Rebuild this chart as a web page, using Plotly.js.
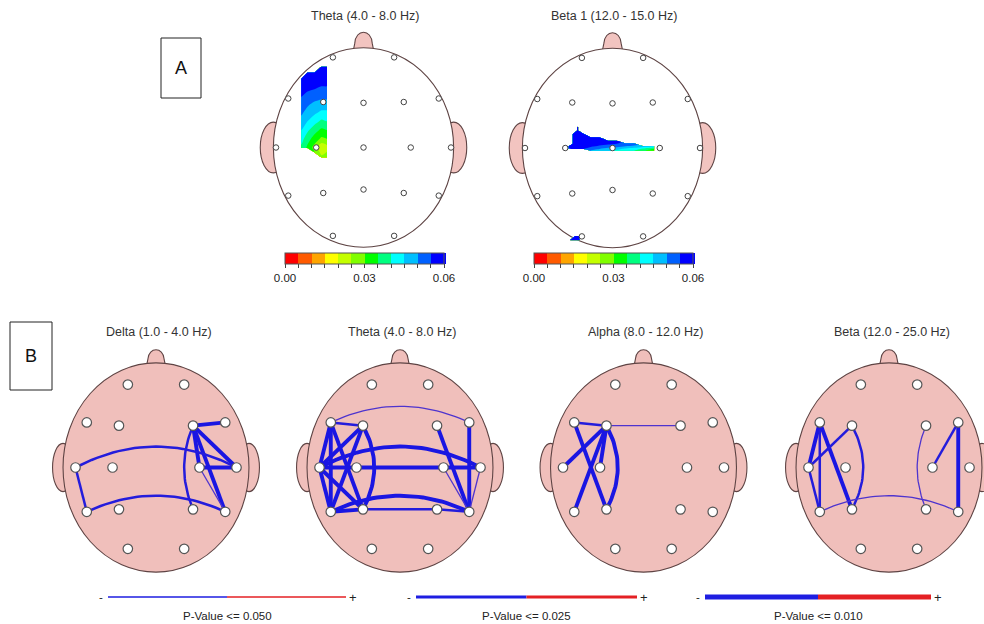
<!DOCTYPE html>
<html>
<head>
<meta charset="utf-8">
<script src="https://cdn.plot.ly/plotly-3.0.1.min.js"></script>
<style>
  html, body { margin: 0; padding: 0; background: #ffffff; }
  #chart { width: 984px; height: 624px; }
</style>
</head>
<body>
<div id="chart"></div>
<script>
// ---- 10-20 montage (head units, T3 at x = -1) ----
const electrodes = ['Fp1','Fp2','F7','F3','Fz','F4','F8','T3','C3','Cz','C4','T4','T5','P3','Pz','P4','T6','O1','O2'];
const electrodeX = [-0.35, 0.35, -0.86, -0.46, 0, 0.46, 0.86, -1, -0.54, 0, 0.54, 1, -0.86, -0.46, 0, 0.46, 0.86, -0.35, 0.35];
const electrodeY = [1.03, 1.03, 0.56, 0.52, 0.51, 0.52, 0.56, 0, 0, 0, 0, 0, -0.55, -0.52, -0.48, -0.52, -0.55, -1.01, -1.01];
const midline = ['Fz', 'Cz', 'Pz'];

// ---- Panel A: p-value maps ----
const mapTitles = ['Theta (4.0 - 8.0 Hz)', 'Beta 1 (12.0 - 15.0 Hz)'];
const pMin = 0, pMax = 0.06, pStep = 0.005;
const pTickValues = [0, 0.03, 0.06];
const pTickLabels = ['0.00', '0.03', '0.06'];
const bandColors = ['#ff0000','#ff5a00','#ffa500','#ffff00','#c4ff00','#80ff00',
                    '#00ff00','#00ff80','#00ffff','#00bfff','#0060ff','#0000ff'];

// Theta map (left fronto-central)
const thetaMapX = [-0.73, -0.71, -0.64, -0.56, -0.48, -0.42, -0.39];
const thetaMapY = [-0.15, -0.11, -0.05, 0.0, 0.1, 0.2, 0.3, 0.4, 0.5, 0.6, 0.7, 0.78, 0.85, 0.92, 0.96];
const thetaMapZ = [
  [null, null,   null,   null,   null,  null,  null],
  [null, null,   null,   null,   0.026, 0.028, null],
  [null, null,   null,   0.030,  0.023, 0.025, null],
  [null, 0.039,  0.034,  0.028,  0.021, 0.023, null],
  [null, 0.042,  0.037,  0.033,  0.029, 0.030, null],
  [null, 0.045,  0.041,  0.037,  0.034, 0.035, null],
  [null, 0.048,  0.045,  0.042,  0.039, 0.040, null],
  [null, 0.051,  0.048,  0.046,  0.044, 0.044, null],
  [null, 0.053,  0.051,  0.049,  0.048, 0.048, null],
  [null, 0.0555, 0.054,  0.053,  0.052, 0.052, null],
  [null, 0.057,  0.0565, 0.056,  0.055, 0.055, null],
  [null, 0.058,  0.058,  0.0575, 0.057, 0.057, null],
  [null, null,   0.059,  0.059,  0.059, 0.059, null],
  [null, null,   null,   null,   0.059, 0.059, null],
  [null, null,   null,   null,   null,  null,  null]
];

// Beta 1 map (central strip)
const beta1MapX = [-0.52, -0.50, -0.45, -0.40, -0.33, -0.25, -0.15, -0.05, 0.05, 0.15, 0.25, 0.35, 0.47, 0.53];
const beta1MapY = [-0.05, -0.03, -0.01, 0.02, 0.05, 0.08, 0.12, 0.16, 0.20, 0.24, 0.28];
const beta1MapZ = [
  [null, null,  null,  null,  null,  null,  null,  null,  null,  null,  null,  null,  null,  null],
  [null, null,  null,  null,  null,  0.050, 0.048, 0.046, 0.044, 0.042, 0.040, 0.036, 0.032, null],
  [null, 0.054, 0.056, 0.057, 0.055, 0.052, 0.050, 0.048, 0.046, 0.044, 0.042, 0.039, 0.035, null],
  [null, 0.057, 0.058, 0.059, 0.058, 0.056, 0.054, 0.053, 0.052, 0.050, 0.049, 0.047, 0.045, null],
  [null, null,  0.059, 0.059, 0.059, 0.058, 0.057, 0.056, 0.055, 0.054, 0.053, null,  null,  null],
  [null, null,  0.059, 0.059, 0.059, 0.059, 0.058, 0.058, 0.057, null,  null,  null,  null,  null],
  [null, null,  0.059, 0.059, 0.059, 0.059, 0.059, null,  null,  null,  null,  null,  null,  null],
  [null, null,  0.059, 0.059, 0.059, null,  null,  null,  null,  null,  null,  null,  null,  null],
  [null, null,  null,  0.059, null,  null,  null,  null,  null,  null,  null,  null,  null,  null],
  [null, null,  null,  0.059, null,  null,  null,  null,  null,  null,  null,  null,  null,  null],
  [null, null,  null,  null,  null,  null,  null,  null,  null,  null,  null,  null,  null,  null]
];
// Beta 1 map (occipital spot near O1)
const beta1SpotX = [-0.51, -0.48, -0.43, -0.38, -0.33];
const beta1SpotY = [-1.08, -1.05, -1.01, -0.96];
const beta1SpotZ = [
  [null, null,  null,  null,  null],
  [null, 0.059, 0.058, 0.056, null],
  [null, null,  0.059, 0.057, null],
  [null, null,  null,  null,  null]
];

// ---- Panel B: coherence links [from, to, significance level] ----
// level 1: p <= 0.050, level 2: p <= 0.025, level 3: p <= 0.010
const bandTitles = ['Delta (1.0 - 4.0 Hz)', 'Theta (4.0 - 8.0 Hz)', 'Alpha (8.0 - 12.0 Hz)', 'Beta (12.0 - 25.0 Hz)'];
const deltaLinks = [
  ['F4','F8',3], ['F4','C4',3], ['F4','T4',3], ['F4','T6',3], ['C4','T4',3],
  ['C4','T6',1], ['F4','P4',2], ['T3','T4',2], ['T5','T6',2], ['T3','T5',2]
];
const thetaLinks = [
  ['F7','F8',1], ['F7','F3',2], ['F7','T3',3], ['F7','T5',3], ['F7','P3',3],
  ['F3','T3',3], ['F3','T5',3], ['F3','P3',3], ['T3','C3',3], ['C3','C4',3],
  ['C4','T4',3], ['T3','T4',3], ['T5','T6',3], ['T3','P3',3], ['T3','T5',3],
  ['T5','P3',3], ['P3','P4',2], ['P4','T6',2], ['F4','T6',3], ['F8','T6',3],
  ['C4','T6',1], ['T4','T6',1]
];
const alphaLinks = [
  ['F7','F3',2], ['F3','F4',1], ['F7','P3',3], ['F3','T5',3], ['F3','T3',3],
  ['F3','C3',3], ['F3','P3',3]
];
const betaLinks = [
  ['F7','T3',3], ['F7','T5',2], ['F7','P3',3], ['F3','T3',2], ['T3','T5',2],
  ['F3','P3',2], ['T5','T6',1], ['F4','P4',1], ['F8','C4',2], ['F8','T6',3]
];
const pLevels = ['0.050', '0.025', '0.010'];

// ---- drawing styles ----
const W = 984, H = 624;
const FONT = 'Liberation Sans, Arial, sans-serif';
const linkWidth = {1: 1.3, 2: 2.5, 3: 3.9};
const linkColor = {1: 'rgb(78,52,206)', 2: 'rgb(36,28,220)', 3: 'rgb(26,22,226)'};
const arcBend = {'T3-T4': 0.26, 'T5-T6': 0.2, 'F3-P3': 0.14, 'F4-P4': -0.11, 'F7-F8': 0.2};
const pinkFill = '#f0bfbb';
const outline = '#5e4444';

const colorscale = [];
bandColors.forEach((c, i) => {
  colorscale.push([i / bandColors.length, c]);
  colorscale.push([(i + 1) / bandColors.length, c]);
});
const bandTicks = bandColors.map((c, i) => pMin + (pMax - pMin) * i / bandColors.length).concat([pMax]);
const bandTickText = bandTicks.map(v => {
  const k = pTickValues.findIndex(t => Math.abs(t - v) < 1e-9);
  return k >= 0 ? pTickLabels[k] : '';
});

// subplot frames: pixel centre, pixels per head unit, unit ranges
const frames = [
  {cx: 363.5, cy: 147.5, s: 87.5, xr: [-1.3, 1.3], yr: [-1.25, 1.4]},
  {cx: 612.5, cy: 148,   s: 87.5, xr: [-1.3, 1.3], yr: [-1.25, 1.4]},
  {cx: 156,   cy: 467.5, s: 80.5, xr: [-1.45, 1.45], yr: [-1.32, 1.5]},
  {cx: 400,   cy: 467.5, s: 80.5, xr: [-1.45, 1.45], yr: [-1.32, 1.5]},
  {cx: 643.5, cy: 467.5, s: 80.5, xr: [-1.45, 1.45], yr: [-1.32, 1.5]},
  {cx: 889,   cy: 467.5, s: 80.5, xr: [-1.45, (W - 889) / 80.5], yr: [-1.32, 1.5]}
];

const layout = {
  width: W, height: H,
  margin: {l: 0, r: 0, t: 0, b: 0},
  paper_bgcolor: '#ffffff', plot_bgcolor: 'rgba(0,0,0,0)',
  showlegend: false,
  shapes: [], annotations: []
};

frames.forEach((f, i) => {
  const n = i === 0 ? '' : String(i + 1);
  const x0 = f.cx + f.xr[0] * f.s, x1 = f.cx + f.xr[1] * f.s;
  const yTop = f.cy - f.yr[1] * f.s, yBot = f.cy - f.yr[0] * f.s;
  layout['xaxis' + n] = {domain: [x0 / W, Math.min(1, x1 / W)], range: f.xr, visible: false,
                         fixedrange: true, anchor: 'y' + n};
  layout['yaxis' + n] = {domain: [1 - yBot / H, 1 - yTop / H], range: f.yr, visible: false,
                         fixedrange: true, anchor: 'x' + n};
});

// head outlines
function addHead(n, opt) {
  const xref = 'x' + n, yref = 'y' + n;
  const base = {xref, yref, layer: 'below', line: {color: outline, width: 1.1}};
  // nose
  const nb = opt.ry - 0.05, nt = opt.noseTop;
  layout.shapes.push(Object.assign({}, base, {type: 'path', fillcolor: opt.earFill,
    path: `M -0.12 ${nb} L -0.10 ${nb + 0.1} C -0.09 ${nt + 0.04}, 0.09 ${nt + 0.04}, 0.10 ${nb + 0.1} L 0.12 ${nb} Z`}));
  // ears
  [-1, 1].forEach(sd => {
    layout.shapes.push(Object.assign({}, base, {type: 'circle', fillcolor: opt.earFill,
      x0: sd * opt.rx - opt.earRx, x1: sd * opt.rx + opt.earRx, y0: -opt.earRy, y1: opt.earRy}));
  });
  // scalp
  layout.shapes.push(Object.assign({}, base, {type: 'circle', fillcolor: opt.fill,
    x0: -opt.rx, x1: opt.rx, y0: -opt.ry, y1: opt.ry}));
}
addHead('', {rx: 1.03, ry: 1.14, noseTop: 1.32, earRx: 0.15, earRy: 0.29, fill: '#ffffff', earFill: '#f2c4c0'});
addHead('2', {rx: 1.03, ry: 1.14, noseTop: 1.32, earRx: 0.15, earRy: 0.29, fill: '#ffffff', earFill: '#f2c4c0'});
for (let k = 3; k <= 6; k++) {
  addHead(String(k), {rx: 1.155, ry: 1.30, noseTop: 1.46, earRx: 0.13, earRy: 0.30, fill: pinkFill, earFill: pinkFill});
}

const traces = [];

// ---- Panel A maps ----
function colorbarAt(cxPx) {
  return {
    orientation: 'h', x: cxPx / W, xanchor: 'center', y: 1 - 253 / H, yanchor: 'top',
    len: 159, lenmode: 'pixels', thickness: 11, thicknessmode: 'pixels',
    outlinewidth: 1, outlinecolor: '#555', xpad: 0, ypad: 0,
    ticks: 'outside', ticklen: 4, tickwidth: 1, tickcolor: '#444',
    tickvals: bandTicks, ticktext: bandTickText,
    tickfont: {family: FONT, size: 11.5, color: '#222'}
  };
}
function pMap(x, y, z, n, bar) {
  return {type: 'contour', x, y, z, xaxis: 'x' + n, yaxis: 'y' + n,
    connectgaps: false, colorscale, zmin: pMin, zmax: pMax, autocontour: false,
    contours: {start: pMin, end: pMax, size: pStep, coloring: 'fill', showlines: false},
    line: {width: 0, smoothing: 0.8},
    showscale: bar !== null, colorbar: bar || undefined, hoverinfo: 'skip'};
}
traces.push(pMap(thetaMapX, thetaMapY, thetaMapZ, '', colorbarAt(364.5)));
traces.push(pMap(beta1MapX, beta1MapY, beta1MapZ, '2', colorbarAt(613.5)));
traces.push(pMap(beta1SpotX, beta1SpotY, beta1SpotZ, '2', null));

['', '2'].forEach(n => {
  traces.push({type: 'scatter', mode: 'markers', x: electrodeX, y: electrodeY, text: electrodes,
    xaxis: 'x' + n, yaxis: 'y' + n, hoverinfo: 'text',
    marker: {size: 5.5, color: '#ffffff', line: {color: '#444', width: 1}}});
});

// ---- Panel B coherence ----
function linkPath(a, b, bend) {
  const ia = electrodes.indexOf(a), ib = electrodes.indexOf(b);
  const x0 = electrodeX[ia], y0 = electrodeY[ia], x1 = electrodeX[ib], y1 = electrodeY[ib];
  if (!bend) return {x: [x0, x1], y: [y0, y1]};
  const dx = x1 - x0, dy = y1 - y0, L = Math.hypot(dx, dy);
  const qx = (x0 + x1) / 2 - 2 * bend * dy / L, qy = (y0 + y1) / 2 + 2 * bend * dx / L;
  const xs = [], ys = [];
  for (let k = 0; k <= 30; k++) {
    const t = k / 30;
    xs.push((1 - t) * (1 - t) * x0 + 2 * t * (1 - t) * qx + t * t * x1);
    ys.push((1 - t) * (1 - t) * y0 + 2 * t * (1 - t) * qy + t * t * y1);
  }
  return {x: xs, y: ys};
}
const bElectrodes = electrodes.filter(e => !midline.includes(e));
[deltaLinks, thetaLinks, alphaLinks, betaLinks].forEach((links, i) => {
  const n = String(i + 3);
  links.forEach(([a, b, lvl]) => {
    const p = linkPath(a, b, arcBend[a + '-' + b]);
    traces.push({type: 'scatter', mode: 'lines', x: p.x, y: p.y, xaxis: 'x' + n, yaxis: 'y' + n,
      line: {color: linkColor[lvl], width: linkWidth[lvl]}, hoverinfo: 'skip'});
  });
  traces.push({type: 'scatter', mode: 'markers', xaxis: 'x' + n, yaxis: 'y' + n,
    x: bElectrodes.map(e => electrodeX[electrodes.indexOf(e)]),
    y: bElectrodes.map(e => electrodeY[electrodes.indexOf(e)]),
    text: bElectrodes, hoverinfo: 'text',
    marker: {size: 9.5, color: '#ffffff', line: {color: '#555', width: 1.2}}});
});

// ---- titles ----
const titleFont = {family: FONT, size: 12.5, color: '#333'};
[[364.5, 16], [613.5, 16]].forEach(([x, y], i) => {
  layout.annotations.push({text: mapTitles[i], x: x / W, y: 1 - y / H, xref: 'paper', yref: 'paper',
    xanchor: 'center', yanchor: 'middle', showarrow: false, font: titleFont});
});
[158.5, 401.5, 645, 892].forEach((x, i) => {
  layout.annotations.push({text: bandTitles[i], x: x / W, y: 1 - 332 / H, xref: 'paper', yref: 'paper',
    xanchor: 'center', yanchor: 'middle', showarrow: false, font: titleFont});
});

// panel letters
[['A', 161, 38, 201, 98], ['B', 10, 322, 52, 390]].forEach(([t, x0, y0, x1, y1]) => {
  layout.shapes.push({type: 'rect', xref: 'paper', yref: 'paper', x0: x0 / W, x1: x1 / W,
    y0: 1 - y1 / H, y1: 1 - y0 / H, line: {color: '#222', width: 1}, fillcolor: 'rgba(0,0,0,0)'});
  layout.annotations.push({text: t, x: (x0 + x1) / 2 / W, y: 1 - (y0 + y1) / 2 / H, xref: 'paper', yref: 'paper',
    xanchor: 'center', yanchor: 'middle', showarrow: false, font: {family: FONT, size: 18, color: '#111'}});
});

// significance key
const keyPos = [[108, 346], [416, 637], [705, 931]];
const keyY = 597;
keyPos.forEach(([x0, x1], i) => {
  const mid = (x0 + x1) / 2, w = [1.5, 3, 5][i];
  layout.shapes.push({type: 'line', xref: 'paper', yref: 'paper', x0: x0 / W, x1: mid / W,
    y0: 1 - keyY / H, y1: 1 - keyY / H, line: {color: 'rgb(30,30,225)', width: w}});
  layout.shapes.push({type: 'line', xref: 'paper', yref: 'paper', x0: mid / W, x1: x1 / W,
    y0: 1 - keyY / H, y1: 1 - keyY / H, line: {color: 'rgb(228,32,36)', width: w}});
  const kf = {family: FONT, size: 11.5, color: '#222'};
  layout.annotations.push({text: '-', x: (x0 - 7) / W, y: 1 - keyY / H, xref: 'paper', yref: 'paper',
    xanchor: 'center', yanchor: 'middle', showarrow: false, font: kf});
  layout.annotations.push({text: '+', x: (x1 + 7) / W, y: 1 - keyY / H, xref: 'paper', yref: 'paper',
    xanchor: 'center', yanchor: 'middle', showarrow: false, font: {family: FONT, size: 13, color: '#222'}});
  layout.annotations.push({text: 'P-Value &lt;= ' + pLevels[i], x: mid / W, y: 1 - 616 / H,
    xref: 'paper', yref: 'paper', xanchor: 'center', yanchor: 'middle', showarrow: false, font: kf});
});

Plotly.newPlot('chart', traces, layout, {staticPlot: true, displayModeBar: false});
</script>
</body>
</html>
